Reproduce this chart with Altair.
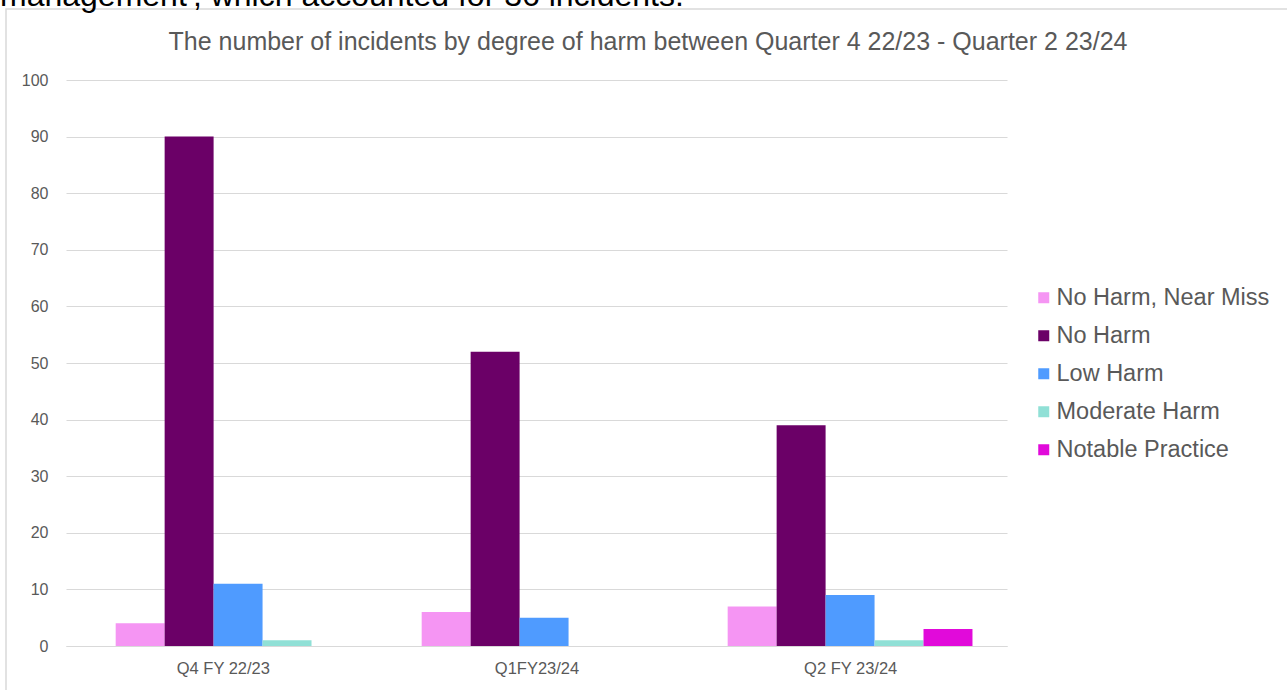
import altair as alt
import pandas as pd

periods = ["Q4 FY 22/23", "Q1FY23/24", "Q2 FY 23/24"]
series = ["No Harm, Near Miss", "No Harm", "Low Harm", "Moderate Harm", "Notable Practice"]
colors = ["#F595F3", "#6B0067", "#4F9BFF", "#90E0D6", "#E10ADA"]
near_miss = [4, 6, 7]
no_harm = [90, 52, 39]
low_harm = [11, 5, 9]
moderate_harm = [1, 0, 1]
notable_practice = [0, 0, 3]

title_text = "The number of incidents by degree of harm between Quarter 4 22/23 - Quarter 2 23/24"
cropped_text = "management', which accounted for 36 incidents."

values = [near_miss, no_harm, low_harm, moderate_harm, notable_practice]
rows = []
for s, vals in zip(series, values):
    for p, v in zip(periods, vals):
        rows.append({"period": p, "series": s, "count": v})
df = pd.DataFrame(rows)

grey = "#595959"
grid = "#D9D9D9"

yenc = alt.Y("count:Q", scale=alt.Scale(domain=[0, 100]),
             axis=alt.Axis(title=None, values=list(range(0, 101, 10)), ticks=False,
                           domain=False, grid=True, gridColor=grid, labelColor=grey,
                           labelFontSize=16, labelFont="Liberation Sans",
                           labelPadding=18))

# category axis on an evenly divided band (labels centred in equal thirds)
axis_layer = alt.Chart(df).mark_point(opacity=0).encode(
    x=alt.X("period:N", sort=periods,
            scale=alt.Scale(paddingInner=0, paddingOuter=0),
            axis=alt.Axis(title=None, labelAngle=0, ticks=False, domain=True, grid=False,
                          domainColor=grid, labelColor=grey, labelFontSize=16.5,
                          labelFont="Liberation Sans", labelPadding=14)),
    y=yenc,
)

bars = alt.Chart(df).mark_bar().encode(
    x=alt.X("period:N", sort=periods,
            scale=alt.Scale(paddingInner=0.2, paddingOuter=0.1376, align=0.59),
            axis=None),
    xOffset=alt.XOffset("series:N", sort=series),
    y=yenc,
    color=alt.Color("series:N", sort=series,
                    scale=alt.Scale(domain=series, range=colors),
                    legend=alt.Legend(title=None, orient="none", legendX=966, legendY=206,
                                      symbolType="square", symbolSize=121,
                                      symbolStrokeWidth=0, labelFontSize=23.5,
                                      labelColor=grey, labelFont="Liberation Sans",
                                      labelLimit=400,
                                      rowPadding=13, labelOffset=1, padding=0)),
)

one = pd.DataFrame({"a": [0]})
border = alt.Chart(one).mark_rect(filled=False, stroke=grid, strokeWidth=1.5, clip=False).encode(
    x=alt.value(-60), x2=alt.value(1240), y=alt.value(-71), y2=alt.value(640)
)
cropped = alt.Chart(one).mark_text(align="left", baseline="alphabetic", fontSize=32,
                                    font="Liberation Sans", color="#000000").encode(
    x=alt.value(-66), y=alt.value(-74), text=alt.value(cropped_text)
)
title = alt.Chart(one).mark_text(align="center", baseline="middle", fontSize=25,
                                  font="Liberation Sans", color=grey).encode(
    x=alt.value(582), y=alt.value(-38), text=alt.value(title_text)
)

chart = alt.layer(border, cropped, title, axis_layer, bars).resolve_scale(
    x="independent"
).properties(
    width=941, height=566,
    padding={"left": 66, "top": 80, "right": 280, "bottom": 44},
    autosize="none",
).configure_view(stroke=None)

chart.save("out.html", embed_options={"renderer": "svg", "actions": False})
